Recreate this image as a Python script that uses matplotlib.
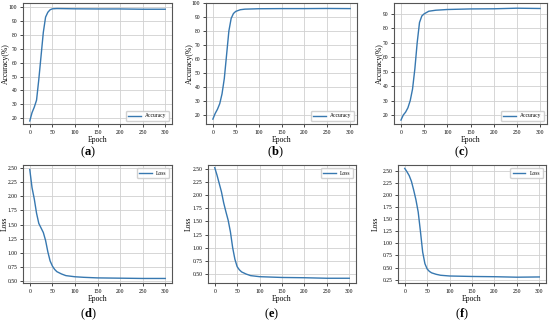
import matplotlib
matplotlib.use("Agg")
import matplotlib.pyplot as plt

plt.rcParams['font.family'] = ['Liberation Serif', 'DejaVu Serif']
plt.rcParams['mathtext.fontset'] = 'custom'
plt.rcParams['mathtext.rm'] = 'Liberation Serif'
plt.rcParams['mathtext.bf'] = 'Liberation Serif:bold'

# accuracy curves (epoch, value)
acc_a_x = [0, 5, 10, 15, 20, 25, 30, 35, 40, 45, 50, 60, 80, 100, 150, 200, 250, 300]
acc_a_y = [18, 24, 28, 33, 48, 65, 82, 93, 96.5, 98.3, 99, 99.2, 99.1, 99, 98.9, 98.9, 98.7, 98.7]
acc_b_x = [0, 5, 10, 15, 20, 25, 30, 35, 40, 45, 50, 60, 70, 100, 150, 200, 250, 300]
acc_b_y = [17, 21, 24, 28, 35, 46, 63, 80, 89, 92.5, 94, 95.2, 95.6, 95.9, 96, 96, 96.1, 96]
acc_c_x = [0, 5, 10, 15, 20, 25, 30, 35, 40, 45, 50, 60, 75, 100, 150, 200, 250, 300]
acc_c_y = [16.5, 20, 22, 25, 30, 38, 52, 70, 84, 88.5, 90, 91.8, 92.5, 93, 93.4, 93.5, 93.9, 93.7]

# loss curves
loss_d_x = [0, 5, 10, 15, 20, 25, 30, 35, 40, 45, 50, 55, 60, 70, 80, 100, 120, 150, 200, 250, 300]
loss_d_y = [2.47, 2.15, 1.95, 1.7, 1.52, 1.44, 1.36, 1.22, 1.02, 0.86, 0.77, 0.71, 0.67, 0.63, 0.6, 0.58, 0.57, 0.56, 0.555, 0.55, 0.55]
loss_e_x = [0, 5, 10, 15, 20, 25, 30, 35, 40, 45, 50, 55, 60, 70, 80, 100, 150, 200, 250, 300]
loss_e_y = [2.52, 2.38, 2.22, 2.06, 1.85, 1.68, 1.52, 1.3, 1.0, 0.78, 0.64, 0.58, 0.54, 0.5, 0.47, 0.45, 0.435, 0.43, 0.42, 0.42]
loss_f_x = [0, 5, 10, 15, 20, 25, 30, 35, 40, 45, 50, 55, 60, 70, 80, 100, 150, 200, 250, 300]
loss_f_y = [2.55, 2.48, 2.4, 2.28, 2.1, 1.9, 1.65, 1.25, 0.82, 0.58, 0.47, 0.42, 0.39, 0.36, 0.34, 0.325, 0.315, 0.31, 0.3, 0.305]

acc_ticks_ab = [20, 30, 40, 50, 60, 70, 80, 90, 100]
acc_ticks_c = [20, 30, 40, 50, 60, 70, 80, 90]
loss_ticks = [0.25, 0.50, 0.75, 1.00, 1.25, 1.50, 1.75, 2.00, 2.25, 2.50]
panel_labels = ['a', 'b', 'c', 'd', 'e', 'f']

W, H = 550, 322
fig = plt.figure(figsize=(5.5, 3.22), dpi=100)

def make_ax(x0, x1, y0, y1):
    return fig.add_axes([x0 / W, 1 - y1 / H, (x1 - x0) / W, (y1 - y0) / H])

line_col = '#3778b0'

def style(ax, ylabel, yticks, ylim, legend_label, loc, label_x):
    ax.set_xlim(-15, 315)
    ax.set_ylim(*ylim)
    ax.set_xticks([0, 50, 100, 150, 200, 250, 300])
    ax.set_yticks(yticks)
    if ylabel == 'Loss':
        ax.set_yticklabels([f"{t:.2f}" for t in yticks])
    ax.tick_params(labelsize=4, length=2, width=0.5, pad=2)
    ax.grid(True, color='#d0d0d0', linewidth=0.6)
    ax.set_axisbelow(True)
    for s in ax.spines.values():
        s.set_color('#555555')
        s.set_linewidth(0.8)
    ax.set_xlabel('Epoch', fontsize=5.5, labelpad=1)
    ax.set_ylabel(ylabel, fontsize=5.5, va='center')
    ax.yaxis.set_label_coords(label_x / W, 0.5,
                              transform=matplotlib.transforms.blended_transform_factory(
                                  fig.transFigure, ax.transAxes))
    ax.legend([legend_label], loc=loc, fontsize=4, handlelength=2.2,
              borderpad=0.5, framealpha=0.9, edgecolor='#cccccc')

ax = make_ax(23, 172, 3, 124)
ax.plot(acc_a_x, acc_a_y, color=line_col, lw=1)
style(ax, 'Accuracy(%)', acc_ticks_ab, (15.8, 103.2), 'Accuracy', 'lower right', 6)

ax = make_ax(206, 357, 3, 124)
ax.plot(acc_b_x, acc_b_y, color=line_col, lw=1)
style(ax, 'Accuracy(%)', acc_ticks_ab, (13.5, 100), 'Accuracy', 'lower right', 190)

ax = make_ax(394, 547, 3, 124)
ax.plot(acc_c_x, acc_c_y, color=line_col, lw=1)
style(ax, 'Accuracy(%)', acc_ticks_c, (13.8, 97.5), 'Accuracy', 'lower right', 380)

ax = make_ax(23, 172, 165, 283)
ax.plot(loss_d_x, loss_d_y, color=line_col, lw=1)
style(ax, 'Loss', loss_ticks[1:], (0.47, 2.55), 'Loss', 'upper right', 5)

ax = make_ax(208, 356, 165, 283)
ax.plot(loss_e_x, loss_e_y, color=line_col, lw=1)
style(ax, 'Loss', loss_ticks[1:], (0.33, 2.57), 'Loss', 'upper right', 189)

ax = make_ax(398, 546, 165, 283)
ax.plot(loss_f_x, loss_f_y, color=line_col, lw=1)
style(ax, 'Loss', loss_ticks, (0.18, 2.62), 'Loss', 'upper right', 376)

# panel letters
label_pos = [(88, 152), (275, 152), (462, 152), (88, 314), (272, 314), (462, 314)]
for lab, (px, py) in zip(panel_labels, label_pos):
    fig.text(px / W, 1 - py / H, f"($\\mathbf{{{lab}}}$)", fontsize=9,
             ha='center', va='center')

fig.savefig('out.png', dpi=100)
